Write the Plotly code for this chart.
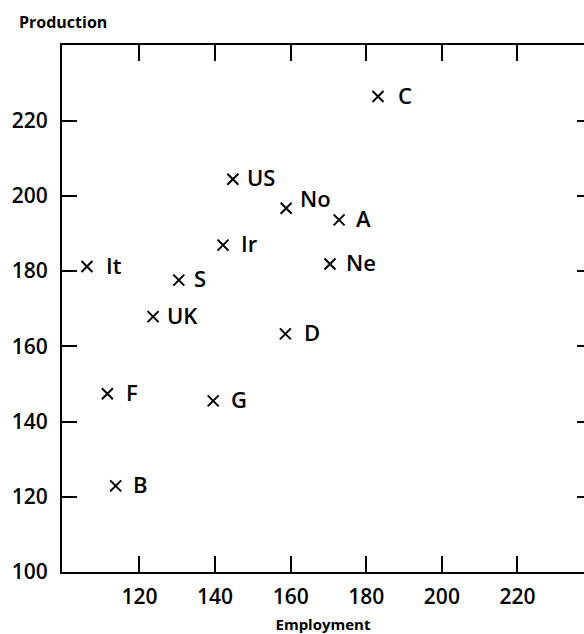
import plotly.graph_objects as go

# Data
countries = ["C", "US", "No", "A", "Ne", "D", "Ir", "It", "S", "UK", "F", "G", "B"]
employment = [183.1, 144.7, 158.8, 172.8, 170.4, 158.6, 142.1, 106.1, 130.4, 123.6, 111.5, 139.5, 113.7]
production = [226.4, 204.4, 196.7, 193.6, 181.9, 163.3, 186.9, 181.2, 177.6, 167.9, 147.4, 145.5, 122.9]

x_ticks = [120, 140, 160, 180, 200, 220]
y_ticks = [100, 120, 140, 160, 180, 200, 220]

# Label placement offsets (pixels) relative to each marker
label_dx = {"C": 18, "US": 12, "No": 12, "A": 15, "Ne": 14, "D": 17, "Ir": 16,
            "It": 17, "S": 13, "UK": 12, "F": 17, "G": 16, "B": 15}
label_dy = {"No": 10}

FONT = "Open Sans"

fig = go.Figure()
fig.add_trace(go.Scatter(
    x=employment, y=production, mode="markers",
    marker=dict(symbol="x-thin", size=11, line=dict(width=2, color="black"), color="black"),
    hoverinfo="text", text=countries, showlegend=False,
))
# invisible trace to anchor the right-hand tick axis
fig.add_trace(go.Scatter(
    x=employment, y=production, mode="markers", yaxis="y2",
    marker=dict(opacity=0), hoverinfo="skip", showlegend=False,
))

for c, xv, yv in zip(countries, employment, production):
    fig.add_annotation(
        x=xv, y=yv, text=c, showarrow=False, xanchor="left", yanchor="middle",
        xshift=label_dx.get(c, 14), yshift=label_dy.get(c, 2),
        font=dict(family=FONT, size=22, color="black", weight=600),
    )

fig.add_annotation(
    xref="paper", yref="paper", x=-0.0862, y=1.044, text="<b>Production</b>",
    showarrow=False, xanchor="left", yanchor="middle",
    font=dict(family=FONT, size=16, color="black"),
)

fig.update_layout(
    width=584, height=634,
    margin=dict(l=62, r=0, t=45, b=60),
    paper_bgcolor="white", plot_bgcolor="white",
    font=dict(family=FONT, color="black"),
    xaxis=dict(
        range=[99.5, 237.6], tickvals=x_ticks, ticks="inside", ticklen=16, tickwidth=2,
        tickcolor="black", showline=True, linewidth=2, linecolor="black", mirror="ticks",
        showgrid=False, zeroline=False, tickfont=dict(family=FONT, size=21, weight=600),
        ticklabelstandoff=5,
        title=dict(text="<b>Employment</b>", font=dict(family=FONT, size=15), standoff=13),
    ),
    yaxis=dict(
        range=[100, 240.1], tickvals=y_ticks, ticks="inside", ticklen=15, tickwidth=2,
        tickcolor="black", showline=True, linewidth=2, linecolor="black",
        showgrid=False, zeroline=False, tickfont=dict(family=FONT, size=21, weight=600),
        ticklabelstandoff=8,
    ),
    yaxis2=dict(
        overlaying="y", side="right", range=[100, 240.1], tickvals=y_ticks[1:],
        ticks="inside", ticklen=7, tickwidth=2, tickcolor="black",
        showline=False, showgrid=False, zeroline=False, showticklabels=False,
    ),
)

fig.write_html("out.html")
